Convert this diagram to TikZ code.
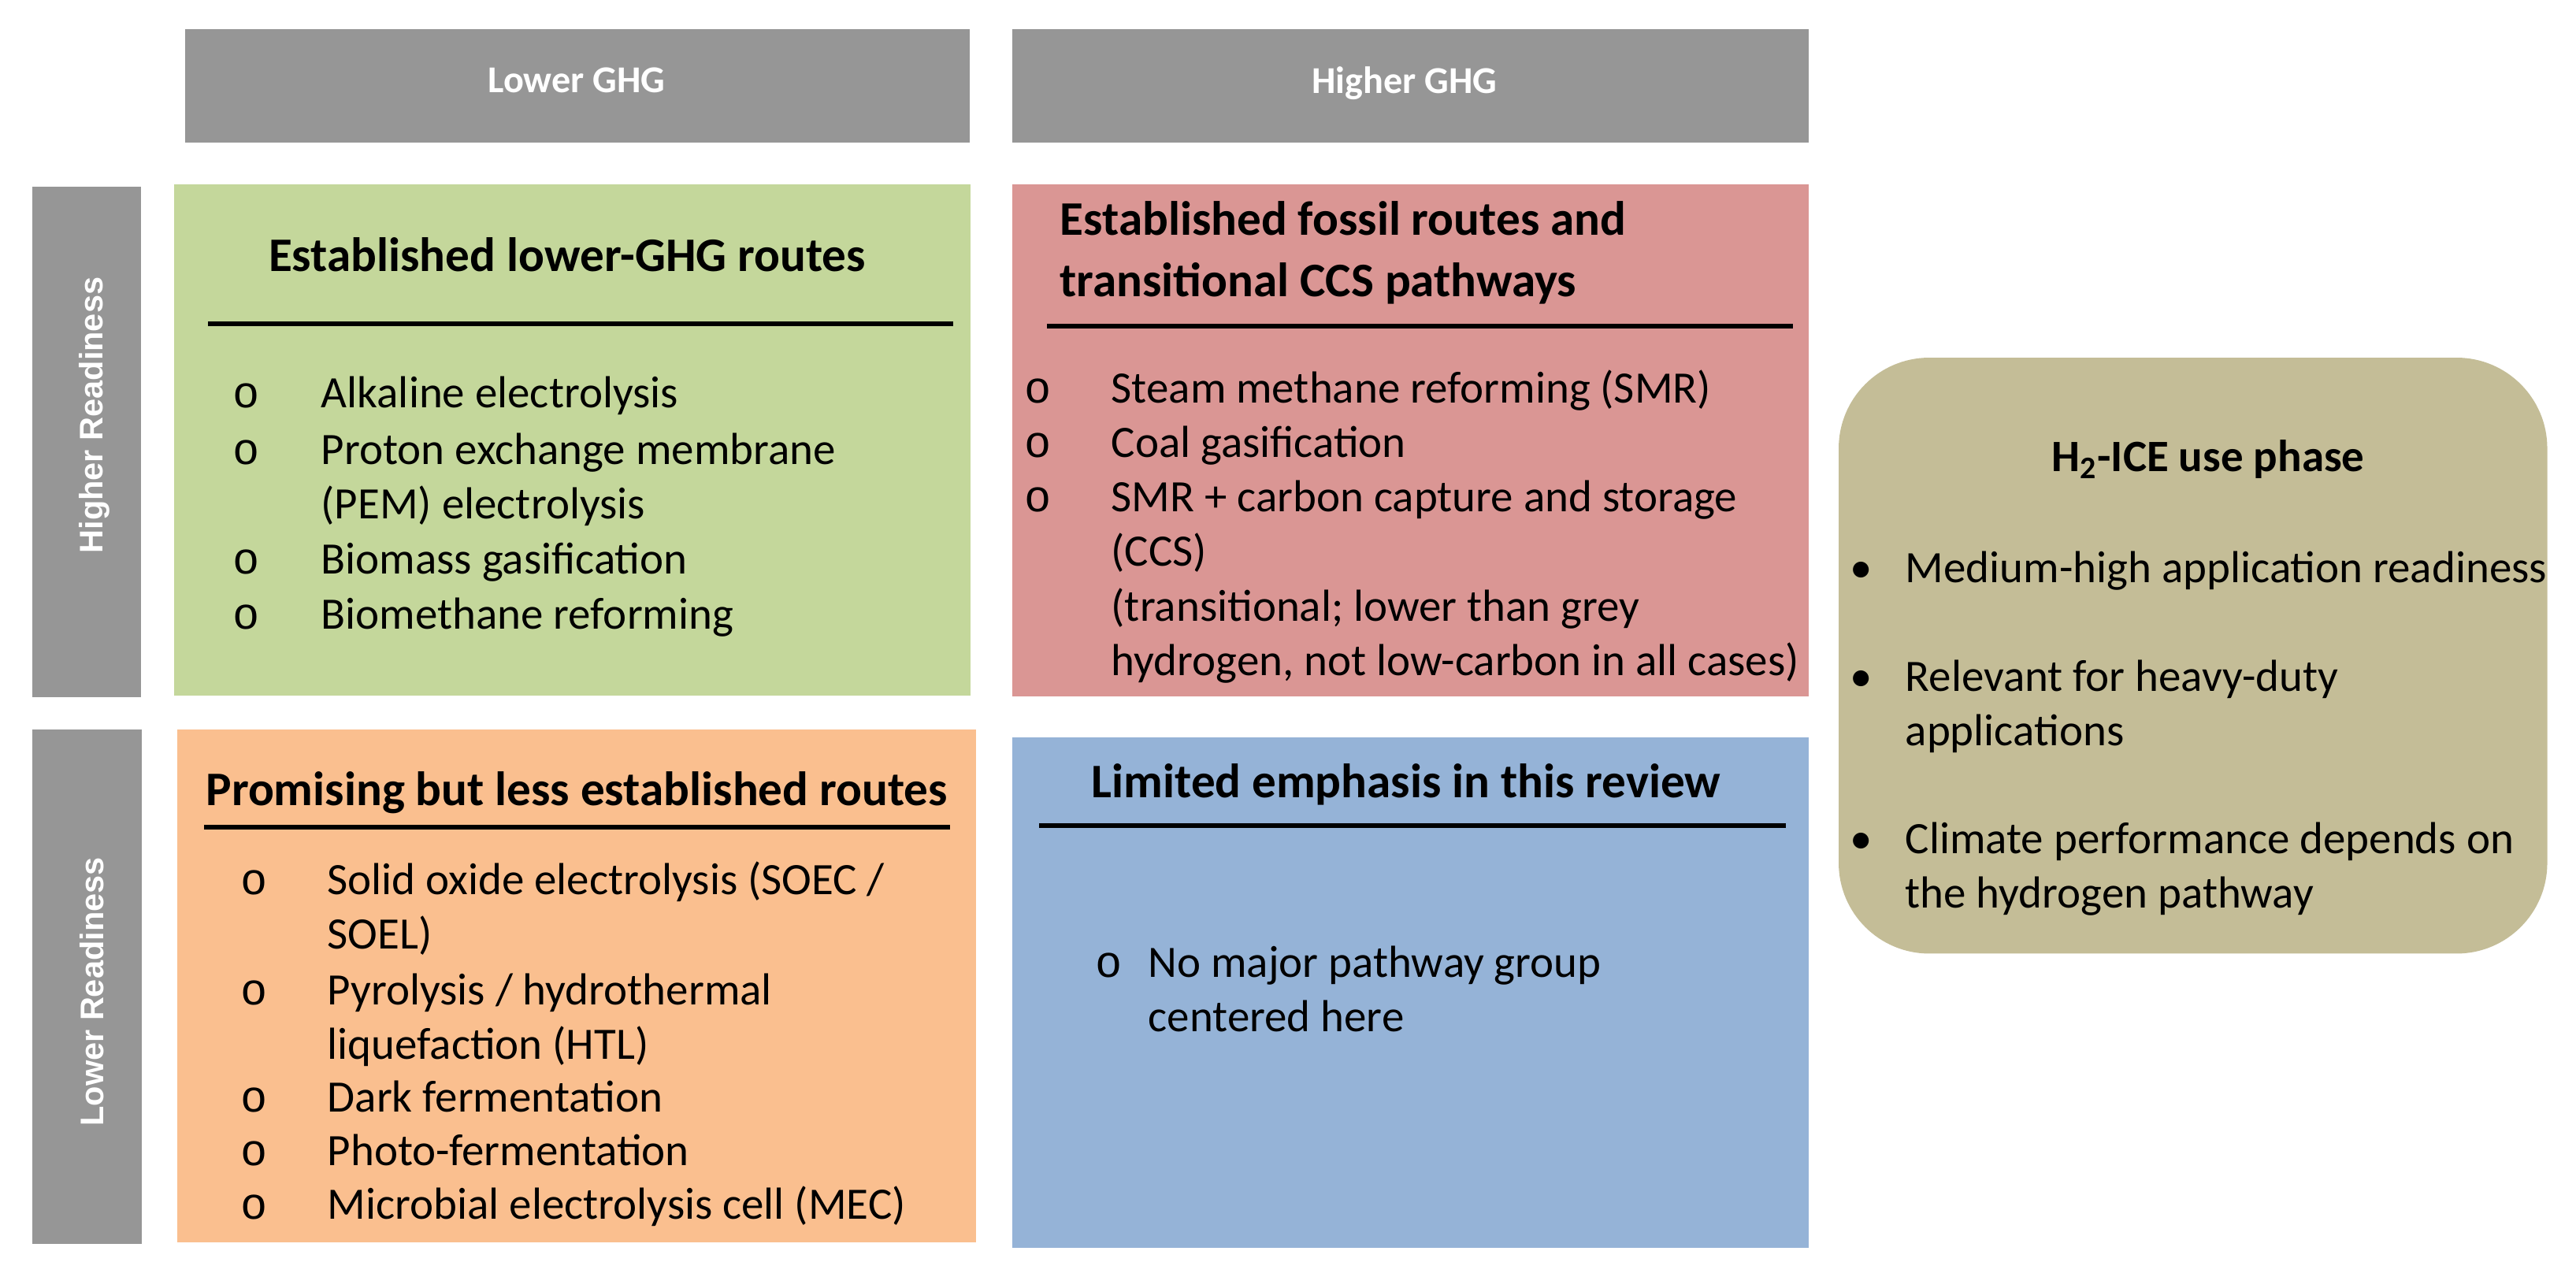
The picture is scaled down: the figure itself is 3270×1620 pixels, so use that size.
\documentclass[tikz,border=0pt]{standalone}
\usepackage{fontspec}
\setmainfont{Carlito}
\newfontfamily\sidefont{Liberation Sans}
\newfontfamily\ofont{Liberation Mono}
\definecolor{hdrgray}{RGB}{150,150,150}
\definecolor{cellgreen}{RGB}{196,215,155}
\definecolor{cellred}{RGB}{218,150,148}
\definecolor{cellorange}{RGB}{250,191,143}
\definecolor{cellblue}{RGB}{149,179,215}
\definecolor{celltan}{RGB}{196,189,151}
\newcommand\stacked[1]{\begin{tabular}[t]{@{}l@{}}#1\end{tabular}}
\tikzset{
  cell/.style={inner sep=0pt, outer sep=0pt, anchor=north west},
  hdr/.style={text=white, anchor=base, inner sep=0pt, font=\fontsize{13.7}{16}\selectfont\bfseries},
  side/.style={rotate=90, text=white, anchor=base, inner sep=0pt, font=\sidefont\fontsize{11.8}{14}\selectfont\bfseries},
  ttl/.style={anchor=base, inner sep=0pt, font=\fontsize{17.4}{22.2}\selectfont\bfseries},
  itm/.style={anchor=base west, inner sep=0pt, font=\fontsize{16.2}{19.8}\selectfont},
  bul/.style={anchor=base, inner sep=0pt, font=\ofont\fontsize{16.2}{19.8}\selectfont},
  rule/.style={line width=0.065cm}
}

\begin{document}
\begin{tikzpicture}[x=0.01cm, y=-0.01cm]
    \useasboundingbox (0,0) rectangle (3270,1620);
    % column and row headers
    \node[cell, fill=hdrgray, minimum width=9.95cm, minimum height=1.44cm] (lowghg) at (235,37) {};
    \node[cell, fill=hdrgray, minimum width=10.1cm, minimum height=1.44cm] (highghg) at (1285,37) {};
    \node[cell, fill=hdrgray, minimum width=1.38cm, minimum height=6.48cm] (highready) at (41,237) {};
    \node[cell, fill=hdrgray, minimum width=1.39cm, minimum height=6.53cm] (lowready) at (41,926) {};
    \node[hdr] (lowghgtext) at (732,117) {Lower GHG};
    \node[hdr] (highghgtext) at (1783,118) {Higher GHG};
    \node[side] (highreadytext) at (130,527) {Higher Readiness};
    \node[side] (lowreadytext) at (131,1259) {Lower Readiness};

    % quadrant cells
    \node[cell, fill=cellgreen, minimum width=10.1cm, minimum height=6.49cm] (green) at (221,234) {};
    \node[cell, fill=cellred, minimum width=10.1cm, minimum height=6.5cm] (red) at (1285,234) {};
    \node[cell, fill=cellorange, minimum width=10.13cm, minimum height=6.51cm] (orange) at (225,926) {};
    \node[cell, fill=cellblue, minimum width=10.1cm, minimum height=6.48cm] (blue) at (1285,936) {};
    \node[cell, fill=celltan, rounded corners=1.15cm, minimum width=8.99cm, minimum height=7.56cm] (tan) at (2334,454) {};

    % green cell
    \node[ttl] (greentitle) at (720,344) {Established lower-GHG routes};
    \draw[rule] (264,411) coordinate (gl) -- (1210,411) coordinate (gr);
    \foreach \n/\y/\t in {1/517/Alkaline electrolysis,
                         2/589/{Proton exchange membrane\\(PEM) electrolysis},
                         3/728/Biomass gasification,
                         4/798/Biomethane reforming}{
        \node[bul] (gb\n) at (313,\y) {o};
        \node[itm] (gt\n) at (407,\y) {\stacked{\t}};
    }

    % red cell
    \node[ttl, anchor=base west] (redtitle) at (1345,298)
        {\stacked{Established fossil routes and\\transitional CCS pathways}};
    \draw[rule] (1329,414) coordinate (rl) -- (2276,414) coordinate (rr);
    \foreach \n/\y/\t in {1/511/Steam methane reforming (SMR),
                         2/580/Coal gasification,
                         3/649/{SMR + carbon capture and storage\\(CCS)\\(transitional; lower than grey\\hydrogen, not low-carbon in all cases)}}{
        \node[bul] (rb\n) at (1318,\y) {o};
        \node[itm] (rt\n) at (1410,\y) {\stacked{\t}};
    }

    % orange cell
    \node[ttl] (orangetitle) at (732,1022) {Promising but less established routes};
    \draw[rule] (259,1050) coordinate (ol) -- (1206,1050) coordinate (or);
    \foreach \n/\y/\t in {1/1135/{Solid oxide electrolysis (SOEC /\\SOEL)},
                         2/1275/{Pyrolysis / hydrothermal\\liquefaction (HTL)},
                         3/1411/Dark fermentation,
                         4/1479/Photo-fermentation,
                         5/1547/Microbial electrolysis cell (MEC)}{
        \node[bul] (ob\n) at (323,\y) {o};
        \node[itm] (ot\n) at (415,\y) {\stacked{\t}};
    }

    % blue cell
    \node[ttl] (bluetitle) at (1785,1012) {Limited emphasis in this review};
    \draw[rule] (1319,1048) coordinate (bl) -- (2267,1048) coordinate (br);
    \node[bul] (bb1) at (1408,1240) {o};
    \node[itm] (bt1) at (1457,1240) {\stacked{No major pathway group\\centered here}};

    % use phase
    \node[ttl, font=\fontsize{16.2}{19.8}\selectfont\bfseries] (tantitle) at (2803,598) {$\mathbf{H}_\mathbf{2}$-ICE use phase};
    \foreach \n/\y/\t in {1/739/Medium-high application readiness,
                         2/877/{Relevant for heavy-duty\\applications},
                         3/1083/{Climate performance depends on\\the hydrogen pathway}}{
        \node[itm] (ub\n) at (2348,\y) {•};
        \node[itm] (ut\n) at (2418,\y) {\stacked{\t}};
    }
\end{tikzpicture}
\end{document}
